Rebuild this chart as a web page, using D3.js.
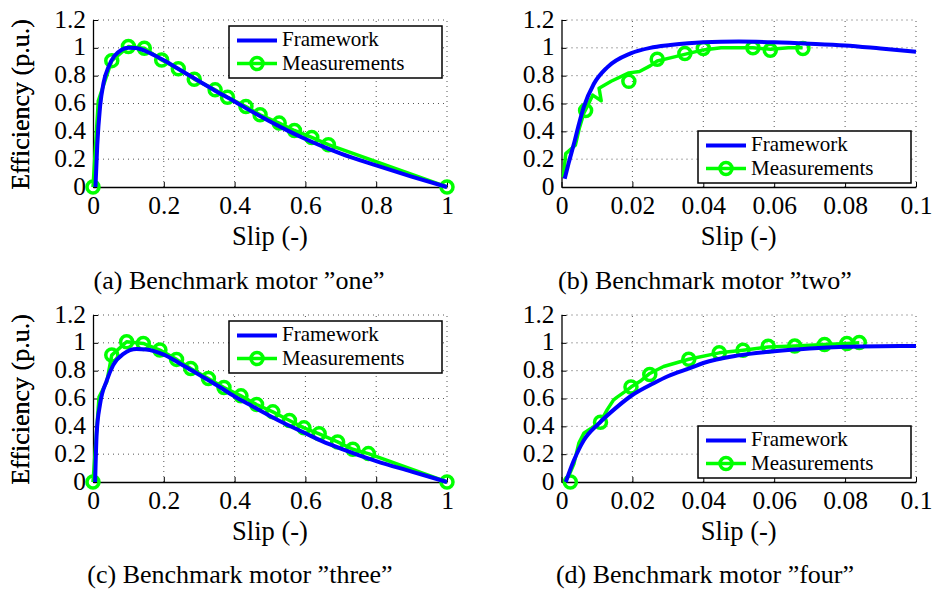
<!DOCTYPE html>
<html>
<head>
<meta charset="utf-8">
<script src="https://cdn.jsdelivr.net/npm/d3@7"></script>
<style>
  html, body { margin: 0; padding: 0; background: #fff; }
  svg { display: block; }
  text { font-family: "Liberation Serif", "DejaVu Serif", serif; fill: #000; }
</style>
</head>
<body>
<svg id="chart" width="935" height="593"></svg>
<script>
// ---- Data: efficiency (p.u.) versus slip (-) for four benchmark motors ----

// Motor "one"
const frameworkOne = [[0.007,0],[0.012,0.3],[0.02,0.58],[0.03,0.75],[0.045,0.87],[0.06,0.94],[0.08,0.985],[0.1,1.0],[0.12,0.998],[0.15,0.975],[0.2,0.91],[0.25,0.835],[0.3,0.76],[0.35,0.685],[0.4,0.615],[0.45,0.54],[0.5,0.47],[0.55,0.405],[0.6,0.345],[0.65,0.29],[0.7,0.24],[0.8,0.155],[0.9,0.075],[1.0,0.0]];
const measLineOne = [[0,0],[0.015,0.62],[0.053,0.908],[0.10,1.009],[0.145,0.997],[0.194,0.913],[0.241,0.849],[0.286,0.775],[0.345,0.698],[0.380,0.645],[0.432,0.578],[0.472,0.519],[0.526,0.459],[0.569,0.406],[0.618,0.356],[0.665,0.304],[1.0,0]];
const measMarkersOne = [[0,0],[0.053,0.908],[0.10,1.009],[0.145,0.997],[0.194,0.913],[0.241,0.849],[0.286,0.775],[0.345,0.698],[0.380,0.645],[0.432,0.578],[0.472,0.519],[0.526,0.459],[0.569,0.406],[0.618,0.356],[0.665,0.304],[1.0,0]];

// Motor "two"
const frameworkTwo = [[0.0009,0.06],[0.002,0.17],[0.0035,0.31],[0.005,0.46],[0.0063,0.575],[0.0091,0.74],[0.0129,0.86],[0.0195,0.96],[0.025,1.0],[0.0307,1.02],[0.04,1.04],[0.05,1.045],[0.06,1.04],[0.07,1.03],[0.08,1.017],[0.09,0.995],[0.1,0.972]];
const measLineTwo = [[0.0005,0.07],[0.0012,0.24],[0.0039,0.30],[0.005,0.42],[0.0063,0.53],[0.0088,0.66],[0.0112,0.62],[0.0106,0.71],[0.014,0.76],[0.019,0.82],[0.022,0.83],[0.025,0.87],[0.027,0.905],[0.031,0.93],[0.035,0.955],[0.040,0.985],[0.045,1.0],[0.054,1.0],[0.059,0.99],[0.064,1.0],[0.068,1.0]];
const measMarkersTwo = [[0.0068,0.549],[0.019,0.759],[0.027,0.918],[0.0348,0.959],[0.040,0.995],[0.054,1.0],[0.0589,0.983],[0.0681,0.995]];

// Motor "three"
const frameworkThree = [[0.006,0],[0.0104,0.35],[0.02,0.56],[0.039,0.73],[0.057,0.84],[0.086,0.92],[0.123,0.955],[0.15,0.952],[0.2,0.915],[0.25,0.845],[0.3,0.77],[0.35,0.695],[0.4,0.615],[0.45,0.545],[0.5,0.475],[0.55,0.41],[0.6,0.35],[0.65,0.29],[0.7,0.24],[0.8,0.15],[0.9,0.075],[1.0,0]];
const measLineThree = [[0,0],[0.017,0.61],[0.039,0.72],[0.053,0.912],[0.095,1.008],[0.142,0.996],[0.189,0.948],[0.236,0.881],[0.276,0.816],[0.326,0.744],[0.370,0.679],[0.418,0.619],[0.462,0.557],[0.508,0.504],[0.555,0.442],[0.596,0.389],[0.639,0.346],[0.691,0.288],[0.734,0.235],[0.778,0.204],[1.0,0]];
const measMarkersThree = [[0,0],[0.053,0.912],[0.095,1.008],[0.142,0.996],[0.189,0.948],[0.236,0.881],[0.276,0.816],[0.326,0.744],[0.370,0.679],[0.418,0.619],[0.462,0.557],[0.508,0.504],[0.555,0.442],[0.596,0.389],[0.639,0.346],[0.691,0.288],[0.734,0.235],[0.778,0.204],[1.0,0]];

// Motor "four"
const frameworkFour = [[0.0012,0],[0.0035,0.156],[0.0063,0.30],[0.0105,0.42],[0.0157,0.54],[0.02,0.625],[0.026,0.71],[0.03,0.76],[0.0364,0.82],[0.04,0.855],[0.05,0.91],[0.06,0.94],[0.07,0.96],[0.08,0.972],[0.09,0.976],[0.1,0.977]];
const measLineFour = [[0.001,0.01],[0.002,0.04],[0.0035,0.13],[0.0049,0.28],[0.0063,0.35],[0.008,0.38],[0.011,0.43],[0.0129,0.52],[0.0147,0.59],[0.0157,0.61],[0.0185,0.66],[0.0196,0.682],[0.0225,0.73],[0.0249,0.78],[0.0288,0.83],[0.0359,0.882],[0.0445,0.928],[0.0512,0.947],[0.0583,0.97],[0.0658,0.978],[0.0742,0.988],[0.0805,0.995],[0.084,1.0]];
const measMarkersFour = [[0.0025,0],[0.011,0.429],[0.0196,0.682],[0.0249,0.773],[0.0359,0.882],[0.0445,0.928],[0.0512,0.947],[0.0583,0.976],[0.0658,0.978],[0.0742,0.988],[0.0805,0.995],[0.084,1.002]];

// Axis ticks and labels
const yTicks = [0, 0.2, 0.4, 0.6, 0.8, 1, 1.2];
const xTicksFull = [0, 0.2, 0.4, 0.6, 0.8, 1];
const xTicksZoom = [0, 0.02, 0.04, 0.06, 0.08, 0.1];
const seriesNames = ["Framework", "Measurements"];
const captions = ["(a) Benchmark motor \u201done\u201d", "(b) Benchmark motor \u201dtwo\u201d",
                  "(c) Benchmark motor \u201dthree\u201d", "(d) Benchmark motor \u201dfour\u201d"];
const xTitle = "Slip (-)";
const yTitle = "Efficiency (p.u.)";

// ---- Layout ----
const BLUE = "#0000ff", GREEN = "#00ff00";
const svg = d3.select("#chart");

const panels = [
  { left: 93,    right: 447, top: 20,  bottom: 187, xMax: 1,   xTicks: xTicksFull,
    fw: frameworkOne,   line: measLineOne,   marks: measMarkersOne,   legend: "top",    caption: captions[0], capX: 239, capY: 289 },
  { left: 561.5, right: 916, top: 20,  bottom: 187, xMax: 0.1, xTicks: xTicksZoom,
    fw: frameworkTwo,   line: measLineTwo,   marks: measMarkersTwo,   legend: "bottom", caption: captions[1], capX: 705, capY: 289 },
  { left: 93,    right: 447, top: 315, bottom: 482, xMax: 1,   xTicks: xTicksFull,
    fw: frameworkThree, line: measLineThree, marks: measMarkersThree, legend: "top",    caption: captions[2], capX: 240, capY: 583 },
  { left: 561.5, right: 916, top: 315, bottom: 482, xMax: 0.1, xTicks: xTicksZoom,
    fw: frameworkFour,  line: measLineFour,  marks: measMarkersFour,  legend: "bottom", caption: captions[3], capX: 705, capY: 583 }
];

panels.forEach(p => {
  const g = svg.append("g");
  const x = d3.scaleLinear().domain([0, p.xMax]).range([p.left, p.right]);
  const y = d3.scaleLinear().domain([0, 1.2]).range([p.bottom, p.top]);

  // dotted grid
  const grid = g.append("g").attr("stroke", "#555").attr("stroke-width", 1).attr("stroke-dasharray", "1,4");
  grid.selectAll(".gx").data(p.xTicks.slice(1)).join("line")
    .attr("x1", d => x(d)).attr("x2", d => x(d)).attr("y1", p.bottom).attr("y2", p.top);
  grid.selectAll(".gy").data(yTicks.slice(1)).join("line")
    .attr("x1", p.left).attr("x2", p.right).attr("y1", d => y(d)).attr("y2", d => y(d));

  // axes (ticks pointing inwards, labels via the axis generators)
  const fmt = d => String(d);
  const xAxis = g.append("g").attr("transform", `translate(0,${p.bottom})`)
    .call(d3.axisBottom(x).tickValues(p.xTicks).tickFormat(fmt).tickSizeInner(-5).tickSizeOuter(0).tickPadding(9));
  const yAxis = g.append("g").attr("transform", `translate(${p.left},0)`)
    .call(d3.axisLeft(y).tickValues(yTicks).tickFormat(fmt).tickSizeInner(-5).tickSizeOuter(0).tickPadding(7));
  [xAxis, yAxis].forEach(a => {
    a.attr("font-family", null).attr("font-size", null);
    a.select(".domain").attr("stroke", "#000").attr("stroke-width", 1.3);
    a.selectAll(".tick line").attr("stroke", "#000").attr("stroke-width", 1);
    a.selectAll(".tick text").attr("font-size", 25.5).attr("fill", "#000");
  });
  xAxis.selectAll(".tick text").attr("dy", "0.7em");
  yAxis.selectAll(".tick text").attr("dy", "0.28em");

  // axis titles
  g.append("text").attr("x", (p.left + p.right) / 2).attr("y", p.bottom + 58)
    .attr("text-anchor", "middle").attr("font-size", 26.5).text(xTitle);
  g.append("text").attr("transform", `translate(29,${(p.top + p.bottom) / 2 + 1}) rotate(-90)`)
    .attr("text-anchor", "middle").attr("font-size", 26).text(yTitle);

  // measurement series (line + hollow circle markers)
  const lineGen = d3.line().x(d => x(d[0])).y(d => y(d[1]));
  g.append("path").datum(p.line).attr("d", lineGen)
    .attr("fill", "none").attr("stroke", GREEN).attr("stroke-width", 3.5).attr("stroke-linejoin", "round");
  g.append("g").selectAll("circle").data(p.marks).join("circle")
    .attr("cx", d => x(d[0])).attr("cy", d => y(d[1])).attr("r", 6)
    .attr("fill", "none").attr("stroke", GREEN).attr("stroke-width", 3.5);

  // framework model curve
  const smooth = d3.line().x(d => x(d[0])).y(d => y(d[1])).curve(d3.curveMonotoneX);
  g.append("path").datum(p.fw).attr("d", smooth)
    .attr("fill", "none").attr("stroke", BLUE).attr("stroke-width", 4).attr("stroke-linejoin", "round");

  // legend
  const lw = 213, lh = 52;
  const lx = p.right - 5 - lw;
  const ly = p.legend === "top" ? p.top + 6 : p.bottom - 4 - lh;
  const lg = g.append("g").attr("transform", `translate(${lx},${ly})`);
  lg.append("rect").attr("width", lw).attr("height", lh).attr("fill", "#fff").attr("stroke", "#000").attr("stroke-width", 1.5);
  lg.append("line").attr("x1", 8).attr("x2", 48).attr("y1", 14.5).attr("y2", 14.5).attr("stroke", BLUE).attr("stroke-width", 4);
  lg.append("line").attr("x1", 8).attr("x2", 48).attr("y1", 37.5).attr("y2", 37.5).attr("stroke", GREEN).attr("stroke-width", 3.5);
  lg.append("circle").attr("cx", 28).attr("cy", 37.5).attr("r", 6).attr("fill", "none").attr("stroke", GREEN).attr("stroke-width", 3.5);
  lg.append("text").attr("x", 53).attr("y", 20).attr("font-size", 21).text(seriesNames[0]);
  lg.append("text").attr("x", 53).attr("y", 43.5).attr("font-size", 21).text(seriesNames[1]);

  // caption
  g.append("text").attr("x", p.capX).attr("y", p.capY).attr("text-anchor", "middle")
    .attr("font-size", 26).text(p.caption);
});
</script>
</body>
</html>
